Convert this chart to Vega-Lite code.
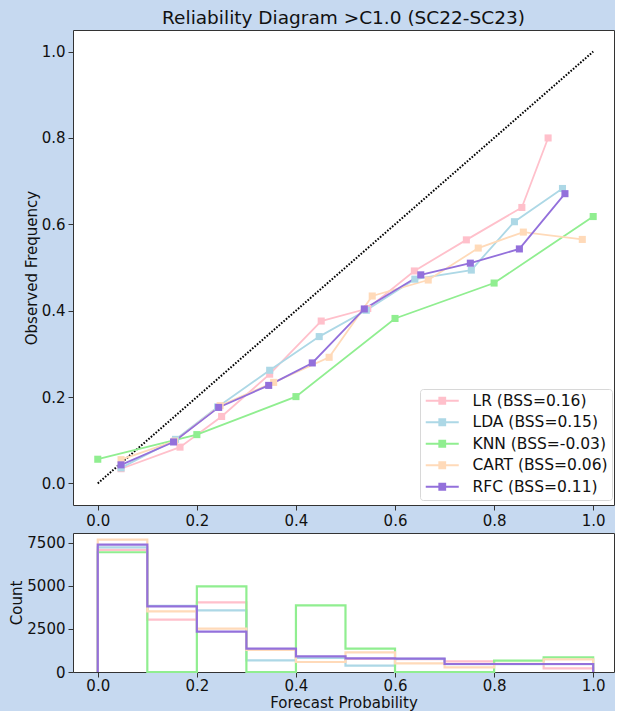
{
  "$schema": "https://vega.github.io/schema/vega-lite/v6.json",
  "background": "#c6d9f0",
  "padding": {"left": 9, "top": 8, "right": 0, "bottom": 0},
  "spacing": 3,
  "datasets": {
    "rel": [
      {"model": "LR (BSS=0.16)", "p": 0.047, "obs": 0.034},
      {"model": "LR (BSS=0.16)", "p": 0.166, "obs": 0.084},
      {"model": "LR (BSS=0.16)", "p": 0.250, "obs": 0.155},
      {"model": "LR (BSS=0.16)", "p": 0.347, "obs": 0.253},
      {"model": "LR (BSS=0.16)", "p": 0.451, "obs": 0.376},
      {"model": "LR (BSS=0.16)", "p": 0.545, "obs": 0.405},
      {"model": "LR (BSS=0.16)", "p": 0.639, "obs": 0.492},
      {"model": "LR (BSS=0.16)", "p": 0.744, "obs": 0.564},
      {"model": "LR (BSS=0.16)", "p": 0.856, "obs": 0.639},
      {"model": "LR (BSS=0.16)", "p": 0.909, "obs": 0.800},
      {"model": "LDA (BSS=0.15)", "p": 0.047, "obs": 0.036},
      {"model": "LDA (BSS=0.15)", "p": 0.157, "obs": 0.102},
      {"model": "LDA (BSS=0.15)", "p": 0.242, "obs": 0.177},
      {"model": "LDA (BSS=0.15)", "p": 0.347, "obs": 0.262},
      {"model": "LDA (BSS=0.15)", "p": 0.447, "obs": 0.340},
      {"model": "LDA (BSS=0.15)", "p": 0.542, "obs": 0.401},
      {"model": "LDA (BSS=0.15)", "p": 0.640, "obs": 0.473},
      {"model": "LDA (BSS=0.15)", "p": 0.754, "obs": 0.494},
      {"model": "LDA (BSS=0.15)", "p": 0.841, "obs": 0.606},
      {"model": "LDA (BSS=0.15)", "p": 0.938, "obs": 0.683},
      {"model": "KNN (BSS=-0.03)", "p": 0.0, "obs": 0.056},
      {"model": "KNN (BSS=-0.03)", "p": 0.2, "obs": 0.113},
      {"model": "KNN (BSS=-0.03)", "p": 0.4, "obs": 0.201},
      {"model": "KNN (BSS=-0.03)", "p": 0.6, "obs": 0.382},
      {"model": "KNN (BSS=-0.03)", "p": 0.8, "obs": 0.464},
      {"model": "KNN (BSS=-0.03)", "p": 1.0, "obs": 0.618},
      {"model": "CART (BSS=0.06)", "p": 0.047, "obs": 0.055},
      {"model": "CART (BSS=0.06)", "p": 0.155, "obs": 0.098},
      {"model": "CART (BSS=0.06)", "p": 0.247, "obs": 0.180},
      {"model": "CART (BSS=0.06)", "p": 0.355, "obs": 0.234},
      {"model": "CART (BSS=0.06)", "p": 0.467, "obs": 0.292},
      {"model": "CART (BSS=0.06)", "p": 0.554, "obs": 0.434},
      {"model": "CART (BSS=0.06)", "p": 0.667, "obs": 0.471},
      {"model": "CART (BSS=0.06)", "p": 0.768, "obs": 0.545},
      {"model": "CART (BSS=0.06)", "p": 0.859, "obs": 0.582},
      {"model": "CART (BSS=0.06)", "p": 0.978, "obs": 0.565},
      {"model": "RFC (BSS=0.11)", "p": 0.047, "obs": 0.043},
      {"model": "RFC (BSS=0.11)", "p": 0.153, "obs": 0.096},
      {"model": "RFC (BSS=0.11)", "p": 0.244, "obs": 0.176},
      {"model": "RFC (BSS=0.11)", "p": 0.345, "obs": 0.227},
      {"model": "RFC (BSS=0.11)", "p": 0.433, "obs": 0.279},
      {"model": "RFC (BSS=0.11)", "p": 0.538, "obs": 0.404},
      {"model": "RFC (BSS=0.11)", "p": 0.652, "obs": 0.483},
      {"model": "RFC (BSS=0.11)", "p": 0.752, "obs": 0.510},
      {"model": "RFC (BSS=0.11)", "p": 0.851, "obs": 0.543},
      {"model": "RFC (BSS=0.11)", "p": 0.943, "obs": 0.671}
    ],
    "diag": [{"p": 0, "obs": 0}, {"p": 1, "obs": 1}],
    "hist": [
      {"model": "LR (BSS=0.16)", "i": 0, "p": 0.0, "c": 0},
      {"model": "LR (BSS=0.16)", "i": 1, "p": 0.0, "c": 7097},
      {"model": "LR (BSS=0.16)", "i": 2, "p": 0.1, "c": 3043},
      {"model": "LR (BSS=0.16)", "i": 3, "p": 0.2, "c": 4049},
      {"model": "LR (BSS=0.16)", "i": 4, "p": 0.3, "c": 1297},
      {"model": "LR (BSS=0.16)", "i": 5, "p": 0.4, "c": 850},
      {"model": "LR (BSS=0.16)", "i": 6, "p": 0.5, "c": 760},
      {"model": "LR (BSS=0.16)", "i": 7, "p": 0.6, "c": 740},
      {"model": "LR (BSS=0.16)", "i": 8, "p": 0.7, "c": 617},
      {"model": "LR (BSS=0.16)", "i": 9, "p": 0.8, "c": 465},
      {"model": "LR (BSS=0.16)", "i": 10, "p": 0.9, "c": 209},
      {"model": "LR (BSS=0.16)", "i": 11, "p": 1.0, "c": 209},
      {"model": "LR (BSS=0.16)", "i": 12, "p": 1.0, "c": 0},
      {"model": "LDA (BSS=0.15)", "i": 0, "p": 0.0, "c": 0},
      {"model": "LDA (BSS=0.15)", "i": 1, "p": 0.0, "c": 7250},
      {"model": "LDA (BSS=0.15)", "i": 2, "p": 0.1, "c": 3850},
      {"model": "LDA (BSS=0.15)", "i": 3, "p": 0.2, "c": 3585},
      {"model": "LDA (BSS=0.15)", "i": 4, "p": 0.3, "c": 675},
      {"model": "LDA (BSS=0.15)", "i": 5, "p": 0.4, "c": 814},
      {"model": "LDA (BSS=0.15)", "i": 6, "p": 0.5, "c": 366},
      {"model": "LDA (BSS=0.15)", "i": 7, "p": 0.6, "c": 760},
      {"model": "LDA (BSS=0.15)", "i": 8, "p": 0.7, "c": 460},
      {"model": "LDA (BSS=0.15)", "i": 9, "p": 0.8, "c": 460},
      {"model": "LDA (BSS=0.15)", "i": 10, "p": 0.9, "c": 455},
      {"model": "LDA (BSS=0.15)", "i": 11, "p": 1.0, "c": 455},
      {"model": "LDA (BSS=0.15)", "i": 12, "p": 1.0, "c": 0},
      {"model": "KNN (BSS=-0.03)", "i": 0, "p": 0.0, "c": 0},
      {"model": "KNN (BSS=-0.03)", "i": 1, "p": 0.0, "c": 6960},
      {"model": "KNN (BSS=-0.03)", "i": 2, "p": 0.1, "c": 0},
      {"model": "KNN (BSS=-0.03)", "i": 3, "p": 0.2, "c": 4980},
      {"model": "KNN (BSS=-0.03)", "i": 4, "p": 0.3, "c": 0},
      {"model": "KNN (BSS=-0.03)", "i": 5, "p": 0.4, "c": 3874},
      {"model": "KNN (BSS=-0.03)", "i": 6, "p": 0.5, "c": 1355},
      {"model": "KNN (BSS=-0.03)", "i": 7, "p": 0.6, "c": 0},
      {"model": "KNN (BSS=-0.03)", "i": 8, "p": 0.7, "c": 0},
      {"model": "KNN (BSS=-0.03)", "i": 9, "p": 0.8, "c": 657},
      {"model": "KNN (BSS=-0.03)", "i": 10, "p": 0.9, "c": 850},
      {"model": "KNN (BSS=-0.03)", "i": 11, "p": 1.0, "c": 850},
      {"model": "KNN (BSS=-0.03)", "i": 12, "p": 1.0, "c": 0},
      {"model": "CART (BSS=0.06)", "i": 0, "p": 0.0, "c": 0},
      {"model": "CART (BSS=0.06)", "i": 1, "p": 0.0, "c": 7700},
      {"model": "CART (BSS=0.06)", "i": 2, "p": 0.1, "c": 3527},
      {"model": "CART (BSS=0.06)", "i": 3, "p": 0.2, "c": 2519},
      {"model": "CART (BSS=0.06)", "i": 4, "p": 0.3, "c": 1290},
      {"model": "CART (BSS=0.06)", "i": 5, "p": 0.4, "c": 582},
      {"model": "CART (BSS=0.06)", "i": 6, "p": 0.5, "c": 1140},
      {"model": "CART (BSS=0.06)", "i": 7, "p": 0.6, "c": 500},
      {"model": "CART (BSS=0.06)", "i": 8, "p": 0.7, "c": 268},
      {"model": "CART (BSS=0.06)", "i": 9, "p": 0.8, "c": 480},
      {"model": "CART (BSS=0.06)", "i": 10, "p": 0.9, "c": 733},
      {"model": "CART (BSS=0.06)", "i": 11, "p": 1.0, "c": 733},
      {"model": "CART (BSS=0.06)", "i": 12, "p": 1.0, "c": 0},
      {"model": "RFC (BSS=0.11)", "i": 0, "p": 0.0, "c": 0},
      {"model": "RFC (BSS=0.11)", "i": 1, "p": 0.0, "c": 7405},
      {"model": "RFC (BSS=0.11)", "i": 2, "p": 0.1, "c": 3817},
      {"model": "RFC (BSS=0.11)", "i": 3, "p": 0.2, "c": 2344},
      {"model": "RFC (BSS=0.11)", "i": 4, "p": 0.3, "c": 1355},
      {"model": "RFC (BSS=0.11)", "i": 5, "p": 0.4, "c": 908},
      {"model": "RFC (BSS=0.11)", "i": 6, "p": 0.5, "c": 791},
      {"model": "RFC (BSS=0.11)", "i": 7, "p": 0.6, "c": 774},
      {"model": "RFC (BSS=0.11)", "i": 8, "p": 0.7, "c": 465},
      {"model": "RFC (BSS=0.11)", "i": 9, "p": 0.8, "c": 465},
      {"model": "RFC (BSS=0.11)", "i": 10, "p": 0.9, "c": 465},
      {"model": "RFC (BSS=0.11)", "i": 11, "p": 1.0, "c": 465},
      {"model": "RFC (BSS=0.11)", "i": 12, "p": 1.0, "c": 0}
    ]
  },
  "resolve": {"legend": {"color": "independent"}},
  "vconcat": [
    {
      "width": 541,
      "height": 475,
      "title": {"text": "Reliability Diagram >C1.0 (SC22-SC23)", "fontSize": 18.5, "fontWeight": "normal", "offset": 3, "color": "#111"},
      "layer": [
        {
          "data": {"name": "diag"},
          "mark": {"type": "line", "color": "black", "strokeDash": [1.6, 1.6], "strokeWidth": 2},
          "encoding": {
            "x": {"field": "p", "type": "quantitative", "scale": {"domain": [-0.05, 1.042], "nice": false, "zero": false}},
            "y": {"field": "obs", "type": "quantitative", "scale": {"domain": [-0.05, 1.05], "nice": false, "zero": false}}
          }
        },
        {
          "data": {"name": "rel"},
          "mark": {"type": "line", "strokeWidth": 1.8, "point": {"shape": "square", "size": 50, "filled": true}},
          "encoding": {
            "x": {"field": "p", "type": "quantitative", "axis": {"title": null, "values": [0, 0.2, 0.4, 0.6, 0.8, 1.0], "format": ".1f"}},
            "y": {"field": "obs", "type": "quantitative", "axis": {"title": "Observed Frequency", "values": [0, 0.2, 0.4, 0.6, 0.8, 1.0], "format": ".1f"}},
            "color": {
              "field": "model", "type": "nominal",
              "scale": {"domain": ["LR (BSS=0.16)", "LDA (BSS=0.15)", "KNN (BSS=-0.03)", "CART (BSS=0.06)", "RFC (BSS=0.11)"], "range": ["#ffc0cb", "#add8e6", "#90ee90", "#ffdab9", "#9370db"]},
              "legend": {
                "title": null,
                "orient": "none",
                "legendX": 347,
                "legendY": 359,
                "padding": 4,
                "fillColor": "rgba(255,255,255,0.85)",
                "strokeColor": "#d8d8d8",
                "cornerRadius": 3,
                "labelFontSize": 15.5,
                "labelColor": "#111",
                "labelOffset": 33,
                "symbolType": "M-1.2,0H5.4M1.5,-0.6H2.7V0.6H1.5Z",
                "symbolSize": 100,
                "symbolStrokeWidth": 1.8,
                "rowPadding": 4.5,
                "encode": {"symbols": {"update": {"fill": {"scale": "color", "field": "value"}, "stroke": {"scale": "color", "field": "value"}, "opacity": {"value": 1}}}}
              }
            }
          }
        }
      ]
    },
    {
      "width": 541,
      "height": 139,
      "data": {"name": "hist"},
      "mark": {"type": "line", "interpolate": "step-after", "strokeWidth": 2.2},
      "encoding": {
        "x": {"field": "p", "type": "quantitative", "scale": {"domain": [-0.05, 1.042], "nice": false, "zero": false}, "axis": {"title": "Forecast Probability", "values": [0, 0.2, 0.4, 0.6, 0.8, 1.0], "format": ".1f", "titlePadding": 2, "labelPadding": 1}},
        "y": {"field": "c", "type": "quantitative", "scale": {"domain": [0, 8080], "nice": false}, "axis": {"title": "Count", "values": [0, 2500, 5000, 7500], "format": "d"}},
        "order": {"field": "i", "type": "quantitative"},
        "color": {"field": "model", "type": "nominal", "legend": null}
      }
    }
  ],
  "config": {
    "font": "DejaVu Sans",
    "view": {"stroke": "#333", "fill": "white"},
    "axis": {"grid": false, "domain": false, "labelFontSize": 15, "titleFontSize": 15, "titleFontWeight": "normal", "labelColor": "#111", "titleColor": "#111", "tickColor": "#333", "tickSize": 5, "labelPadding": 3, "titlePadding": 2}
  }
}
